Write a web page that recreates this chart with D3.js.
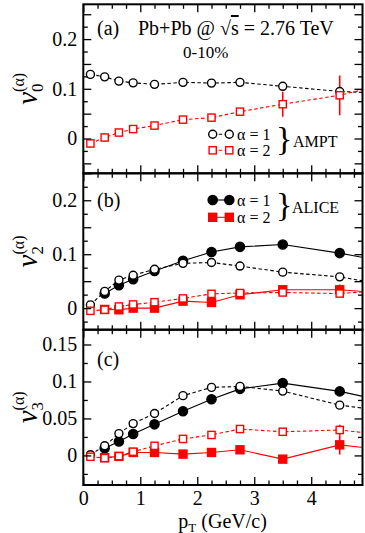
<!DOCTYPE html>
<html><head><meta charset="utf-8">
<script src="https://cdn.jsdelivr.net/npm/d3@7"></script>
<style>
html,body{margin:0;padding:0;background:#fff;}
svg text, svg tspan{font-family:"Liberation Serif","Times New Roman",serif !important;fill:#000;}
</style></head>
<body>
<svg id="chart" width="365" height="533" font-family="Liberation Serif"></svg>
<script>
// ---------------- DATA ----------------
const pT      = [0.125,0.375,0.625,0.875,1.25,1.75,2.25,2.75,3.5,4.5,5.5];
const pTAlice = [0.375,0.625,0.875,1.25,1.75,2.25,2.75,3.5,4.5,5.5];

// panel (a) v0 AMPT
const v0_ampt_a1 = [0.129,0.124,0.1155,0.112,0.109,0.113,0.1115,0.113,0.105,0.0946,0.090];
const v0_ampt_a1_err = [0,0,0,0,0,0,0,0,0.005,0.006,0];
const v0_ampt_a2 = [-0.010,0.002,0.012,0.019,0.026,0.038,0.042,0.054,0.069,0.087,0.1145];
const v0_ampt_a2_err = [0.002,0.002,0.004,0.004,0.004,0.003,0.005,0.004,0.025,0.040,0];

// panel (b) v2
const v2_ampt_a1 = [0.006,0.031,0.052,0.061,0.072,0.083,0.0846,0.078,0.0667,0.058,0.0395];
const v2_ampt_a1_err = [0,0,0,0,0,0,0,0,0.002,0.003,0];
const v2_ampt_a2 = [-0.005,-0.003,0.003,0.0068,0.011,0.018,0.0265,0.028,0.029,0.027,0.0345];
const v2_ampt_a2_err = [0.001,0.001,0.002,0.002,0.002,0.002,0.002,0.003,0.004,0.006,0];
const v2_alice_a1 = [0.027,0.0426,0.0537,0.069,0.0877,0.104,0.1136,0.118,0.102,0.082];
const v2_alice_a1_err = [0,0,0,0,0,0,0,0.002,0.003,0];
const v2_alice_a2 = [-0.0025,-0.003,0.0,0.0,0.013,0.0105,0.0247,0.034,0.034,0.0265];
const v2_alice_a2_err = [0.001,0.001,0.001,0.001,0.002,0.002,0.003,0.007,0.010,0];

// panel (c) v3
const v3_ampt_a1 = [0.001,0.013,0.0295,0.043,0.0567,0.0808,0.092,0.0933,0.087,0.068,0.058];
const v3_ampt_a1_err = [0,0,0,0,0,0,0,0,0.002,0.002,0];
const v3_ampt_a2 = [-0.0018,-0.0036,-0.001,0.005,0.013,0.0223,0.0277,0.0357,0.032,0.0344,0.026];
const v3_ampt_a2_err = [0.001,0.001,0.002,0.002,0.002,0.002,0.002,0.004,0.005,0.007,0];
const v3_alice_a1 = [0.0098,0.0188,0.029,0.042,0.0598,0.0759,0.090,0.0978,0.0866,0.070];
const v3_alice_a1_err = [0,0,0,0,0,0,0,0.002,0.002,0];
const v3_alice_a2 = [-0.003,-0.0013,0.004,0.004,0.0018,0.004,0.0076,-0.005,0.0143,0.0053];
const v3_alice_a2_err = [0.001,0.001,0.001,0.001,0.001,0.001,0.003,0.004,0.013,0];

const xTickLabels = ["0","1","2","3","4"];
const yTicksA = [0,0.1,0.2], yTicksB = [0,0.1,0.2], yTicksC = [0,0.05,0.1,0.15];
const panelLabels = ["(a)","(b)","(c)"];
const subLabels = ["0","2","3"];

// ---------------- LAYOUT ----------------
const SERIF = "'Liberation Serif','Times New Roman',serif";
const svg = d3.select("#chart");
const X0 = 83.3, X1 = 362.5;
const x = d3.scaleLinear().domain([0,4.9]).range([X0,X1]);
const RED = "#ff0000";

function txt(sel, size){ return sel.append("text").attr("font-size",size).style("font-family",SERIF); }

const panels = [
  {top:4.3,  bottom:173.3, dom:[-0.07,0.27], ticks:yTicksA,
   series:[
     {xs:pT, ys:v0_ampt_a1, err:v0_ampt_a1_err, color:"#000", dash:true, shape:"circle", filled:false},
     {xs:pT, ys:v0_ampt_a2, err:v0_ampt_a2_err, color:RED, dash:true, shape:"square", filled:false}
   ]},
  {top:173.3, bottom:329.7, dom:[-0.04,0.25], ticks:yTicksB,
   series:[
     {xs:pTAlice, ys:v2_alice_a1, err:v2_alice_a1_err, color:"#000", dash:false, shape:"circle", filled:true},
     {xs:pTAlice, ys:v2_alice_a2, err:v2_alice_a2_err, color:RED, dash:false, shape:"square", filled:true},
     {xs:pT, ys:v2_ampt_a1, err:v2_ampt_a1_err, color:"#000", dash:true, shape:"circle", filled:false},
     {xs:pT, ys:v2_ampt_a2, err:v2_ampt_a2_err, color:RED, dash:true, shape:"square", filled:false}
   ]},
  {top:329.7, bottom:485, dom:[-0.04,0.17], ticks:yTicksC,
   series:[
     {xs:pTAlice, ys:v3_alice_a1, err:v3_alice_a1_err, color:"#000", dash:false, shape:"circle", filled:true},
     {xs:pTAlice, ys:v3_alice_a2, err:v3_alice_a2_err, color:RED, dash:false, shape:"square", filled:true},
     {xs:pT, ys:v3_ampt_a1, err:v3_ampt_a1_err, color:"#000", dash:true, shape:"circle", filled:false},
     {xs:pT, ys:v3_ampt_a2, err:v3_ampt_a2_err, color:RED, dash:true, shape:"square", filled:false}
   ]}
];

const fmt = d => d===0 ? "0" : String(+d.toFixed(2));

function drawMarker(g, shape, filled, color, cx, cy){
  if(shape==="circle"){
    g.append("circle").attr("cx",cx).attr("cy",cy).attr("r",filled?4.6:4)
      .attr("fill",filled?color:"#fff").attr("stroke",color).attr("stroke-width",1.4);
  } else {
    const s = filled?8:7.2;
    g.append("rect").attr("x",cx-s/2).attr("y",cy-s/2).attr("width",s).attr("height",s)
      .attr("fill",filled?color:"#fff").attr("stroke",color).attr("stroke-width",1.4);
  }
}

panels.forEach((p,i)=>{
  const y = d3.scaleLinear().domain(p.dom).range([p.bottom,p.top]);
  const g = svg.append("g");
  const clipId = "clip"+i;
  svg.append("clipPath").attr("id",clipId).append("rect")
    .attr("x",X0).attr("y",p.top).attr("width",X1-X0).attr("height",p.bottom-p.top);
  const data = g.append("g").attr("clip-path",`url(#${clipId})`);

  p.series.forEach(s=>{
    const pts = s.xs.map((xv,k)=>({x:xv,y:s.ys[k],e:s.err[k]}));
    const line = d3.line().x(d=>x(d.x)).y(d=>y(d.y));
    data.append("path").attr("d",line(pts)).attr("fill","none")
      .attr("stroke",s.color).attr("stroke-width",1.1)
      .attr("stroke-dasharray",s.dash?"3.5,2.5":null);
    pts.forEach(d=>{
      if(d.e>0){
        data.append("line").attr("x1",x(d.x)).attr("x2",x(d.x))
          .attr("y1",y(d.y-d.e)).attr("y2",y(d.y+d.e))
          .attr("stroke",s.color).attr("stroke-width",1.6);
      }
    });
  });
  p.series.forEach(s=>{
    s.xs.forEach((xv,k)=>{ drawMarker(data, s.shape, s.filled, s.color, x(xv), y(s.ys[k])); });
  });

  const xMajor = d3.range(0,5,1), xMinor = d3.range(0,4.9,0.25).filter(v=>Math.abs(v-Math.round(v))>1e-6);
  const yMajor = d3.range(-0.05,p.dom[1]+1e-9,0.05).filter(v=>v>=p.dom[0]);
  const yMinor = d3.range(-0.075,p.dom[1]+1e-9,0.025).filter(v=>v>=p.dom[0] && Math.abs(v/0.05-Math.round(v/0.05))>1e-6);
  const styleAxis = a => { a.attr("font-family",null).attr("font-size",null); a.select(".domain").remove(); a.selectAll("line").attr("stroke","#000").attr("stroke-width",1.3); };
  const styleText = a => a.selectAll("text").attr("font-size",20).style("font-family",SERIF).attr("fill","#000");

  g.append("g").attr("transform",`translate(0,${p.bottom})`)
    .call(d3.axisBottom(x).tickValues(xMajor).tickSize(-8).tickPadding(6)
      .tickFormat((d,k)=> i===2 ? xTickLabels[k] : ""))
    .call(styleAxis).call(styleText)
    .call(a=>a.selectAll("text").attr("dy","0.68em"));
  g.append("g").attr("transform",`translate(0,${p.bottom})`)
    .call(d3.axisBottom(x).tickValues(xMinor).tickSize(-4.5).tickFormat("")).call(styleAxis);
  g.append("g").attr("transform",`translate(0,${p.top})`)
    .call(d3.axisTop(x).tickValues(xMajor).tickSize(-8).tickFormat("")).call(styleAxis);
  g.append("g").attr("transform",`translate(0,${p.top})`)
    .call(d3.axisTop(x).tickValues(xMinor).tickSize(-4.5).tickFormat("")).call(styleAxis);

  g.append("g").attr("transform",`translate(${X0},0)`)
    .call(d3.axisLeft(y).tickValues(yMajor).tickSize(-8).tickPadding(6)
      .tickFormat(d => p.ticks.some(t=>Math.abs(t-d)<1e-9) ? fmt(d) : ""))
    .call(styleAxis).call(styleText);
  g.append("g").attr("transform",`translate(${X0},0)`)
    .call(d3.axisLeft(y).tickValues(yMinor).tickSize(-4.5).tickFormat("")).call(styleAxis);
  g.append("g").attr("transform",`translate(${X1},0)`)
    .call(d3.axisRight(y).tickValues(yMajor).tickSize(-8).tickFormat("")).call(styleAxis);
  g.append("g").attr("transform",`translate(${X1},0)`)
    .call(d3.axisRight(y).tickValues(yMinor).tickSize(-4.5).tickFormat("")).call(styleAxis);

  g.append("rect").attr("x",X0).attr("y",p.top).attr("width",X1-X0).attr("height",p.bottom-p.top)
    .attr("fill","none").attr("stroke","#000").attr("stroke-width",2);

  const labY = [35,207,366][i];
  txt(g,20).attr("x",97).attr("y",labY).text(panelLabels[i]);

  const cy = (p.top+p.bottom)/2;
  const t = txt(g,29).attr("transform",`translate(37,${cy}) rotate(-90)`).attr("text-anchor","middle");
  t.append("tspan").attr("font-style","italic").style("font-style","italic").text("v");
  t.append("tspan").attr("font-size",17).attr("dy",6).text(subLabels[i]);
  t.append("tspan").attr("font-size",16).attr("dx",-8.5).attr("dy",-19).text("(α)");
});

// Title texts
const title = txt(svg,20).attr("x",138).attr("y",35);
title.append("tspan").text("Pb+Pb @ √");
title.append("tspan").attr("text-decoration","overline").style("text-decoration","overline").text("s");
title.append("tspan").text(" = 2.76 TeV");
txt(svg,17).attr("x",183).attr("y",58).text("0-10%");

function legendRow(cy, shape, filled, color, dash, label){
  const lg = svg.append("g");
  lg.append("line").attr("x1",212.7).attr("x2",229.3).attr("y1",cy).attr("y2",cy)
    .attr("stroke",color).attr("stroke-width",1.1).attr("stroke-dasharray",dash?"3.5,2.5":null);
  drawMarker(lg, shape, filled, color, 212.7, cy);
  drawMarker(lg, shape, filled, color, 229.3, cy);
  txt(lg,16).attr("x",237).attr("y",cy+5.5).text(label);
}
legendRow(134.3,"circle",false,"#000",true,"α = 1");
legendRow(150.3,"square",false,RED,true,"α = 2");
txt(svg,34).attr("x",276).attr("y",150).text("}");
txt(svg,16).attr("x",293).attr("y",147).text("AMPT");

legendRow(200,"circle",true,"#000",false,"α = 1");
legendRow(217.3,"square",true,RED,false,"α = 2");
txt(svg,34).attr("x",276).attr("y",216).text("}");
txt(svg,16).attr("x",292).attr("y",213).text("ALICE");

const xt = txt(svg,20).attr("x",222.6).attr("y",527.5).attr("text-anchor","middle");
xt.append("tspan").text("p");
xt.append("tspan").attr("font-size",13).attr("dy",4).text("T");
xt.append("tspan").attr("dy",-4).text(" (GeV/c)");
</script>
</body></html>
